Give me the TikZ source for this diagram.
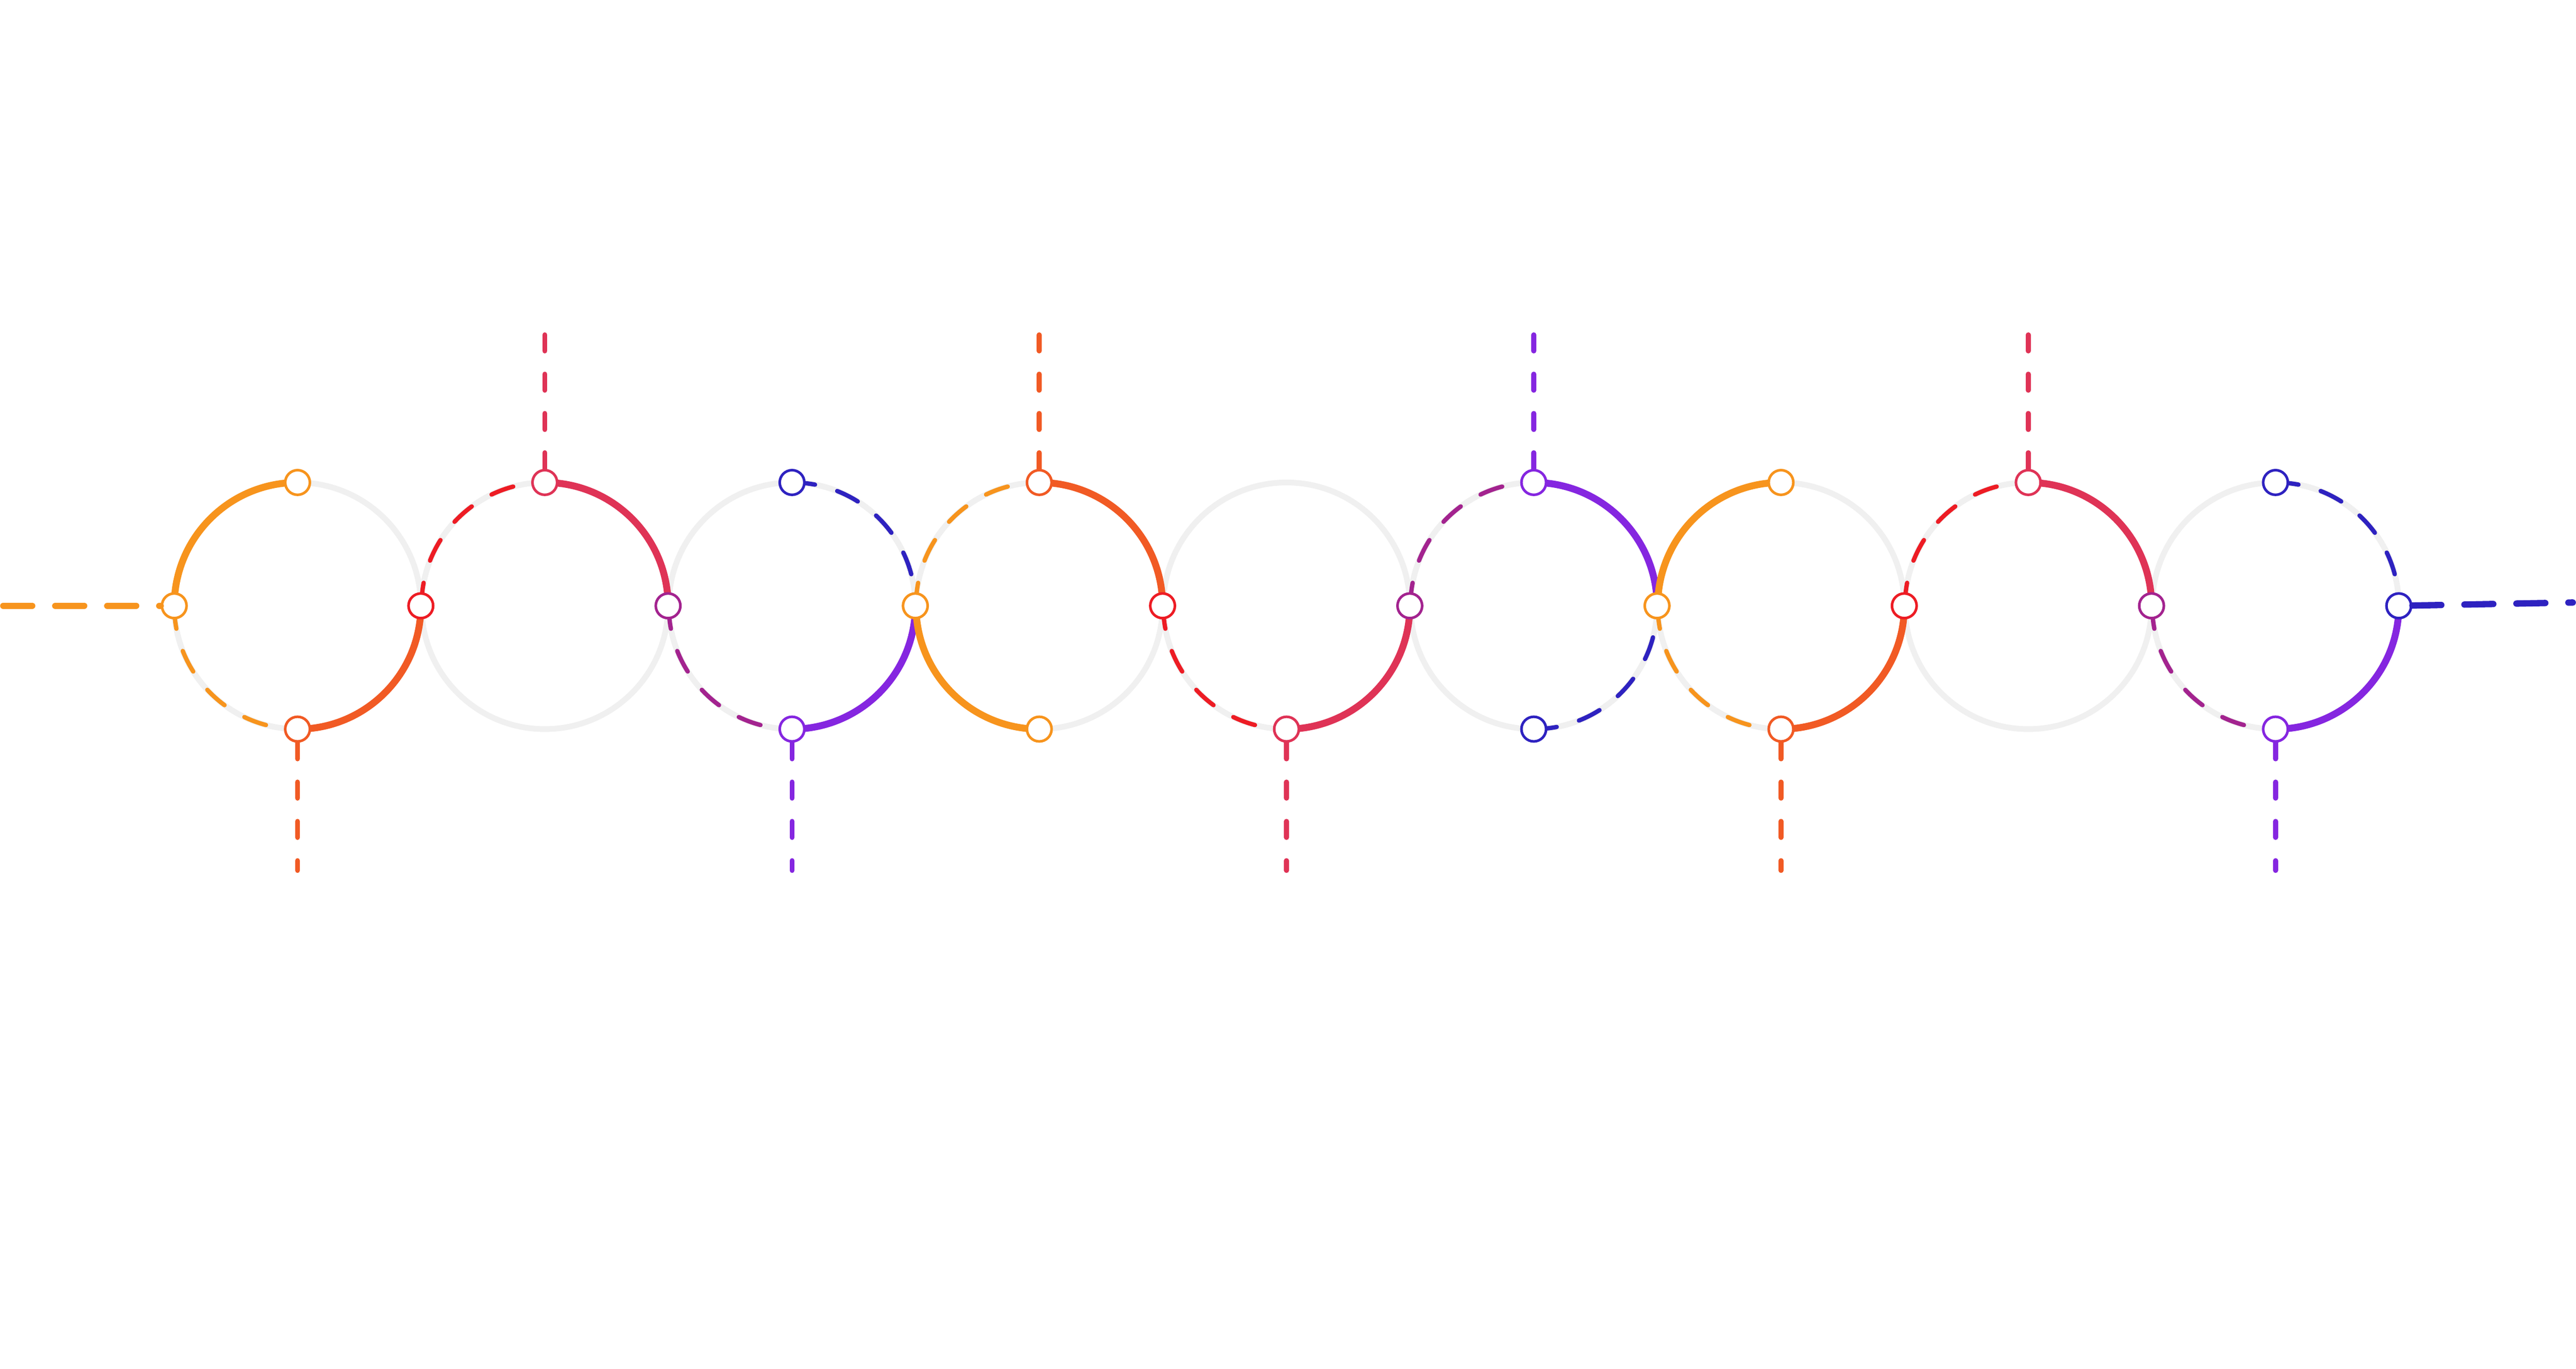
\documentclass[tikz,border=0pt]{standalone}
\usepackage{tikz}
\usetikzlibrary{positioning}
\definecolor{orng}{HTML}{F7941D}
\definecolor{orred}{HTML}{F15A24}
\definecolor{rred}{HTML}{ED1C24}
\definecolor{crim}{HTML}{DF3356}
\definecolor{mgnt}{HTML}{A3238F}
\definecolor{prpl}{HTML}{8526E0}
\definecolor{blu}{HTML}{2E22C0}
\definecolor{lgray}{HTML}{F0F0F0}
\tikzset{
  ring/.style={lgray, line width=1pt},
  full/.style={line width=1.2pt},
  broken/.style={line width=0.75pt, dash pattern=on 4pt off 4pt, line cap=round},
  stub/.style={line width=0.85pt, dash pattern=on 2.8pt off 4pt, line cap=round},
  wire/.style={line width=1.1pt, dash pattern=on 5pt off 4pt, line cap=round},
  dot/.style={circle, draw, fill=white, inner sep=0pt, minimum size=0.15cm, line width=0.45pt}
}
\begin{document}
\begin{tikzpicture}
\useasboundingbox (0,0) rectangle (15.67,8.325);
\foreach \i in {0,...,8} \coordinate (c\i) at (1.81+1.504*\i, 4.64);
\foreach \i in {0,...,8} \draw[ring] (c\i) circle (0.75);
% circle 0
\draw[full, orng] ([shift={(90:0.75)}]c0) arc (90:180:0.75);
\draw[broken, orng] ([shift={(180:0.75)}]c0) arc (180:270:0.75);
\draw[full, orred] ([shift={(270:0.75)}]c0) arc (270:360:0.75);
% circle 1
\draw[broken, rred] ([shift={(180:0.75)}]c1) arc (180:90:0.75);
\draw[full, crim] ([shift={(90:0.75)}]c1) arc (90:0:0.75);
% circle 2
\draw[broken, blu] ([shift={(90:0.75)}]c2) arc (90:0:0.75);
\draw[broken, mgnt] ([shift={(180:0.75)}]c2) arc (180:270:0.75);
\draw[full, prpl] ([shift={(270:0.75)}]c2) arc (270:360:0.75);
% circle 3
\draw[broken, orng] ([shift={(180:0.75)}]c3) arc (180:90:0.75);
\draw[full, orred] ([shift={(90:0.75)}]c3) arc (90:0:0.75);
\draw[full, orng] ([shift={(180:0.75)}]c3) arc (180:270:0.75);
% circle 4
\draw[broken, rred] ([shift={(180:0.75)}]c4) arc (180:270:0.75);
\draw[full, crim] ([shift={(270:0.75)}]c4) arc (270:360:0.75);
% circle 5
\draw[broken, mgnt] ([shift={(180:0.75)}]c5) arc (180:90:0.75);
\draw[full, prpl] ([shift={(90:0.75)}]c5) arc (90:0:0.75);
\draw[broken, blu] ([shift={(270:0.75)}]c5) arc (270:360:0.75);
% circle 6
\draw[full, orng] ([shift={(90:0.75)}]c6) arc (90:180:0.75);
\draw[broken, orng] ([shift={(180:0.75)}]c6) arc (180:270:0.75);
\draw[full, orred] ([shift={(270:0.75)}]c6) arc (270:360:0.75);
% circle 7
\draw[broken, rred] ([shift={(180:0.75)}]c7) arc (180:90:0.75);
\draw[full, crim] ([shift={(90:0.75)}]c7) arc (90:0:0.75);
% circle 8
\draw[broken, blu] ([shift={(90:0.75)}]c8) arc (90:0:0.75);
\draw[broken, mgnt] ([shift={(180:0.75)}]c8) arc (180:270:0.75);
\draw[full, prpl] ([shift={(270:0.75)}]c8) arc (270:360:0.75);
% ends of the wires
\coordinate (inL) at (0.02, 4.64);
\coordinate (outR) at (15.65, 4.66);
\foreach \i in {1,3,5,7} \coordinate (up\i) at ([yshift=1.66cm]c\i);
\foreach \i in {0,2,4,6,8} \coordinate (dn\i) at ([yshift=-1.61cm]c\i);
% junctions
\node[dot, draw=orng] (l0) at ([xshift=-0.75cm]c0) {};
\foreach \i/\col in {0/rred,1/mgnt,2/orng,3/rred,4/mgnt,5/orng,6/rred,7/mgnt,8/blu}
  \node[dot, draw=\col] (r\i) at ([xshift=0.75cm]c\i) {};
\foreach \i/\col in {0/orng,1/crim,2/blu,3/orred,5/prpl,6/orng,7/crim,8/blu}
  \node[dot, draw=\col] (t\i) at ([yshift=0.75cm]c\i) {};
\foreach \i/\col in {0/orred,2/prpl,3/orng,4/crim,5/blu,6/orred,8/prpl}
  \node[dot, draw=\col] (b\i) at ([yshift=-0.75cm]c\i) {};
% wires
\draw[wire, orng] (inL) -- (l0);
\draw[wire, blu] (r8) -- (outR);
\draw[stub, crim] (t1) -- (up1);
\draw[stub, orred] (t3) -- (up3);
\draw[stub, prpl] (t5) -- (up5);
\draw[stub, crim] (t7) -- (up7);
\draw[stub, orred] (b0) -- (dn0);
\draw[stub, prpl] (b2) -- (dn2);
\draw[stub, crim] (b4) -- (dn4);
\draw[stub, orred] (b6) -- (dn6);
\draw[stub, prpl] (b8) -- (dn8);
\end{tikzpicture}
\end{document}
